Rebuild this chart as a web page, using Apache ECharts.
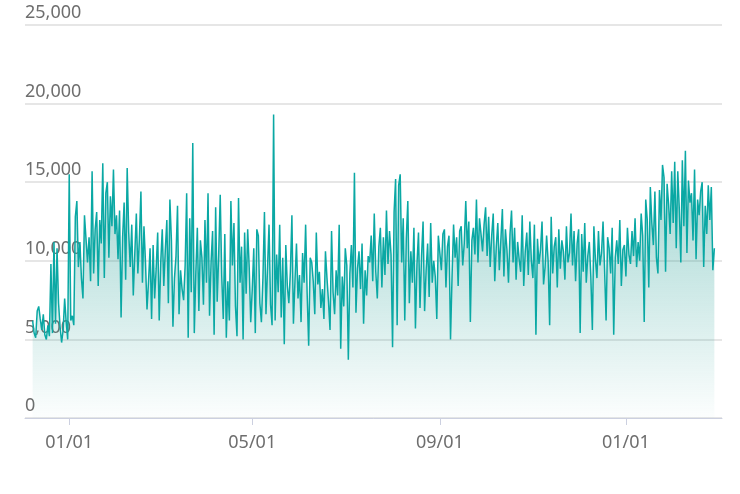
<!DOCTYPE html>
<html>
<head>
<meta charset="utf-8">
<script src="https://cdn.jsdelivr.net/npm/echarts@6/dist/echarts.min.js"></script>
<style>html,body{margin:0;padding:0;background:#fff}#chart{width:740px;height:494px}</style>
</head>
<body>
<div id="chart"></div>
<script>
// daily values, 2017-12-08 .. 2019-02-28
const dec17 = [6200,5400,5100,6800,7100,6300,5600,6600,5300,5000,5900,5200,9800,5400,11200,6000,10800,7300,5800,4800,5600,7600,6100,5000];
const jan18 = [15500,6200,6500,5900,12800,13800,9600,11200,8900,7600,12900,13000,9900,11500,8700,15700,9200,12000,13100,8400,12600,11100,16200,8900,14300,15000,10200,14100,12200,15800,11700];
const feb18 = [12900,10100,13200,6400,11500,13700,8800,15900,11800,9600,12300,7800,10500,13000,9200,11400,14400,8600,12200,9900,6900,8700,10800,6300,11000,7600,9500,11800];
const mar18 = [6200,9900,12000,8400,10700,12600,7300,13900,11300,5800,8900,10300,13500,6600,9400,8200,7500,9700,14300,5100,12700,8000,17500,5400,9200,12100,6800,11300,10200,7200,12600];
const apr18 = [8600,14300,6500,9900,11900,5300,13400,7400,10400,14200,9000,6300,11700,5100,8700,6200,13800,9700,12400,7100,5200,14000,8600,10900,5000,11800,7900,12000,9600,6100];
const may18 = [8200,10800,5400,12000,11600,7300,6100,8900,13100,6600,9500,12300,7200,5900,19300,6200,10400,8000,12300,6400,10200,4700,11000,8400,7300,9300,12900,6000,8700,11100,7600];
const jun18 = [9100,6100,10500,8600,12300,7900,4600,10200,9900,8700,6600,11800,8500,9300,7000,8200,6300,10600,8900,7400,5600,11900,8000,6600,9400,7800,12300,4400,9000,7100];
const jul18 = [10800,9700,3700,9200,11000,8300,15600,6700,9500,10600,8200,11100,6000,9400,7800,10300,9900,11600,8700,13000,9300,7600,10900,12100,8300,11500,9100,13200,9800,11900,10400];
const aug18 = [4500,13100,15200,5900,14800,15500,9900,12700,6200,11400,13800,7300,10600,8600,12100,5700,9800,11800,7000,10300,12500,6800,9400,11100,7700,12400,8600,10000,9000,6300,11600];
const sep18 = [10500,9400,11700,12000,8300,10900,11600,5000,9000,12300,10200,11500,8400,11900,12200,9700,11100,13800,10800,12500,6100,11300,12100,10400,13900,9900,12700,11700,10600,12300];
const oct18 = [13400,10300,12800,9600,11600,13000,8700,10900,12400,9400,11300,13300,9000,12000,10700,8600,11700,13200,9900,12100,8800,11200,10100,9300,12900,8400,10600,11800,9100,12500,10000];
const nov18 = [8900,12300,5300,11400,9800,10700,12500,8500,9600,11600,10000,5900,12800,9200,10900,11500,8300,12000,9500,11300,10600,8800,12200,9900,10500,13000,9700,11900,8700,11100];
const dec18 = [12000,5400,11700,9300,12400,8600,10300,11200,9000,5600,12200,10100,8900,11900,9700,10500,12500,9500,6200,11500,10800,9200,12100,5300,10200,11300,9800,12600,8400,10700,11000];
const jan19 = [9000,12100,10400,9800,11900,10300,12700,9600,11200,10000,13000,11600,6100,13900,12600,8300,14700,12400,11000,14400,10200,9200,14500,12600,16100,15300,9300,14900,13600,11700,15700];
const feb19 = [12400,16300,10800,15700,13300,9900,16400,12200,17000,10500,15100,13700,14300,11300,15800,10100,13900,12900,14400,15000,9600,13500,11700,14800,12600,14700,9400,10800];
const startDate = '2017-12-03';
const padDays = 5;

const values = [].concat(new Array(padDays).fill(null), dec17, jan18, feb18, mar18, apr18, may18,
  jun18, jul18, aug18, sep18, oct18, nov18, dec18, jan19, feb19, new Array(padDays).fill(null));

const dates = [];
const d0 = new Date(startDate + 'T00:00:00Z');
for (let i = 0; i < values.length; i++) {
  const d = new Date(d0.getTime() + i * 86400000);
  dates.push(String(d.getUTCMonth() + 1).padStart(2, '0') + '/' + String(d.getUTCDate()).padStart(2, '0'));
}
const showTick = (i, v) => ['01/01', '05/01', '09/01'].includes(v);

const chart = echarts.init(document.getElementById('chart'));
chart.setOption({
  animation: false,
  grid: { left: 25, right: 18, top: 25, bottom: 76 },
  xAxis: {
    type: 'category',
    data: dates,
    boundaryGap: false,
    axisLine: { lineStyle: { color: '#ccd0e0' } },
    axisTick: { interval: showTick, length: 7, lineStyle: { color: '#ccd0e0' } },
    axisLabel: { interval: showTick, color: '#6e6e6e', fontSize: 18, margin: 16, fontFamily: 'Noto Sans' },
    splitLine: { show: false }
  },
  yAxis: {
    type: 'value',
    min: 0, max: 25000, interval: 5000,
    axisLine: { show: false },
    axisTick: { show: false },
    axisLabel: {
      inside: true, margin: 0, color: '#6e6e6e', fontSize: 18, fontFamily: 'Noto Sans',
      verticalAlign: 'bottom', padding: [0, 0, 3, 0],
      formatter: v => v.toLocaleString('en-US')
    },
    splitLine: { lineStyle: { color: '#e6e6e6', width: 2 } }
  },
  series: [{
    type: 'line',
    data: values,
    symbol: 'none',
    lineStyle: { color: '#0aa8a4', width: 1.5 },
    itemStyle: { color: '#0aa8a4' },
    areaStyle: {
      color: new echarts.graphic.LinearGradient(0, 0, 0, 1, [
        { offset: 0, color: 'rgba(40,160,150,0.75)' },
        { offset: 1, color: 'rgba(40,160,150,0.02)' }
      ])
    }
  }]
});
</script>
</body>
</html>
